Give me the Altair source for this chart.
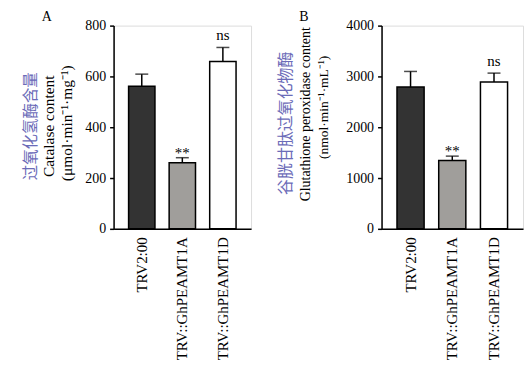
import altair as alt
import pandas as pd

groups = ["TRV2:00", "TRV::GhPEAMT1A", "TRV::GhPEAMT1D"]
colors = ["#333333", "#a09e9b", "#ffffff"]
cat_vals = [561, 260, 659]
cat_err = [48, 20, 55]
cat_sig = ["", "**", "ns"]
gpx_vals = [2790, 1347, 2888]
gpx_err = [308, 84, 177]
gpx_sig = ["", "**", "ns"]

FONT = "Liberation Serif"
CJK = "Noto Sans CJK SC"


def panel(vals, errs, sigs, domain, tickstep, letter, lines, width, letter_x):
    df = pd.DataFrame({
        "g": groups,
        "v": vals,
        "up": [v + e for v, e in zip(vals, errs)],
        "sig": sigs,
    })
    xenc = alt.X("g:N", sort=groups, title=None,
                 scale=alt.Scale(paddingInner=0.35, paddingOuter=0.37),
                 axis=alt.Axis(labelAngle=270, labelFont=FONT, labelFontSize=15,
                               labelColor="black", labelPadding=8, ticks=False,
                               domainColor="black", domainWidth=1.5))
    yenc = alt.Y("v:Q", title=None,
                 scale=alt.Scale(domain=domain, nice=False),
                 axis=alt.Axis(values=list(range(domain[0], domain[1] + 1, tickstep)),
                               format="d",
                               labelFont=FONT, labelFontSize=14, labelColor="black",
                               labelPadding=4, tickSize=4, tickWidth=1.5,
                               tickColor="black", domainColor="black",
                               domainWidth=1.5, grid=False))
    base = alt.Chart(df)
    bars = base.mark_bar(stroke="black", strokeWidth=1.5).encode(
        x=xenc, y=yenc,
        fill=alt.Fill("g:N", sort=groups,
                      scale=alt.Scale(domain=groups, range=colors), legend=None),
    )
    err = base.mark_rule(color="black", strokeWidth=1.5).encode(
        x=alt.X("g:N", sort=groups), y="v:Q", y2="up:Q")
    cap = base.mark_tick(color="black", thickness=1.5, size=13).encode(
        x=alt.X("g:N", sort=groups), y="up:Q")
    star = base.transform_filter(alt.datum.sig == "**").mark_text(
        font=FONT, fontSize=15, baseline="alphabetic", dy=0, color="black").encode(
        x=alt.X("g:N", sort=groups), y="up:Q", text="sig:N")
    ns = base.transform_filter(alt.datum.sig == "ns").mark_text(
        font=FONT, fontSize=15, baseline="alphabetic", dy=-7, color="black").encode(
        x=alt.X("g:N", sort=groups), y="up:Q", text="sig:N")

    layers = [bars, err, cap, star, ns]
    lab = pd.DataFrame({"t": [ln[0] for ln in lines] + [letter]})
    for text, font, size, color, xo, yc in lines:
        layers.append(
            alt.Chart(lab).transform_filter(alt.datum.t == text).mark_text(
                font=font, fontSize=size, angle=270, color=color,
                align="center", baseline="middle").encode(
                text="t:N", x=alt.value(xo), y=alt.value(yc)))
    layers.append(
        alt.Chart(lab).transform_filter(alt.datum.t == letter).mark_text(
            font=FONT, fontSize=14, color="black",
            align="center", baseline="middle").encode(
            text="t:N", x=alt.value(letter_x), y=alt.value(-9)))
    return alt.layer(*layers).properties(width=width, height=204)


ZH_COLOR = "#6b6bb8"
pA = panel(cat_vals, cat_err, cat_sig, [0, 800], 200, "A",
           [("过氧化氢酶含量", CJK, 15.5, ZH_COLOR, -83, 101),
            ("Catalase content", FONT, 15.5, "black", -65, 101),
            ("(μmol·min⁻¹·mg⁻¹)", FONT, 15.5, "black", -47, 98)],
           138, -67)
pB = panel(gpx_vals, gpx_err, gpx_sig, [0, 4000], 1000, "B",
           [("谷胱甘肽过氧化物酶", CJK, 16, ZH_COLOR, -96, 98),
            ("Glutathione peroxidase content", FONT, 14, "black", -76, 89),
            ("(nmol·min⁻¹·mL⁻¹)", FONT, 13.5, "black", -58, 82)],
           142, -78)

chart = alt.hconcat(pA, pB, spacing=25).properties(
    padding={"left": 15, "top": 0, "right": 0, "bottom": 0}
).configure_view(stroke=None).configure(background="white")

chart.save("out.html", embed_options={"renderer": "svg", "actions": False})
